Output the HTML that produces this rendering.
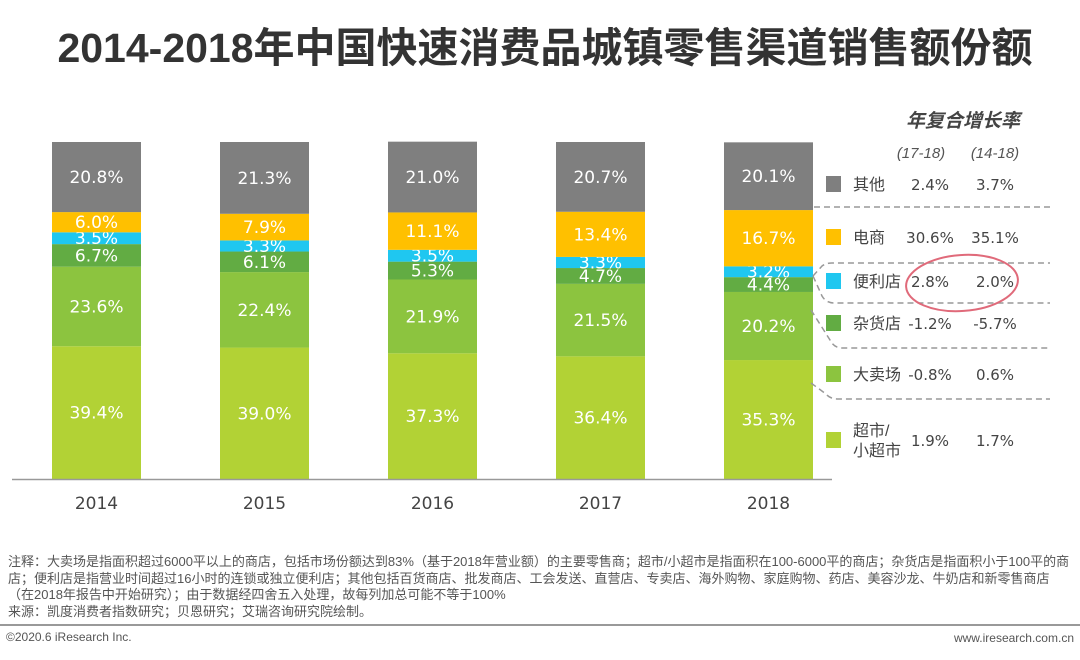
<!DOCTYPE html>
<html><head><meta charset="utf-8">
<style>
body{margin:0;width:1080px;height:660px;background:#fff;font-family:"Liberation Sans","Noto Sans CJK SC",sans-serif;overflow:hidden;position:relative}
.t{position:absolute;white-space:nowrap}
</style></head>
<body>
<div class="t" style="left:0;width:1090px;text-align:center;top:14px;font-size:41px;font-weight:bold;color:#333;font-family:'Liberation Sans','Noto Sans CJK SC',sans-serif">2014-2018年中国快速消费品城镇零售渠道销售额份额</div>
<svg id="chart" width="1080" height="660" style="position:absolute;left:0;top:0"></svg>
<div class="t" style="left:8px;top:554px;font-size:13px;line-height:16.5px;color:#555;white-space:normal;width:1062px">注释：大卖场是指面积超过6000平以上的商店，包括市场份额达到83%（基于2018年营业额）的主要零售商；超市/小超市是指面积在100-6000平的商店；杂货店是指面积小于100平的商店；便利店是指营业时间超过16小时的连锁或独立便利店；其他包括百货商店、批发商店、工会发送、直营店、专卖店、海外购物、家庭购物、药店、美容沙龙、牛奶店和新零售商店（在2018年报告中开始研究）；由于数据经四舍五入处理，故每列加总可能不等于100%<br>来源：凯度消费者指数研究；贝恩研究；艾瑞咨询研究院绘制。</div>
<div style="position:absolute;left:0;top:624px;width:1080px;height:2px;background:#999"></div>
<div class="t" style="left:6px;top:630px;font-size:12px;color:#555">©2020.6 iResearch Inc.</div>
<div class="t" style="right:6px;top:631px;font-size:12px;color:#555">www.iresearch.com.cn</div>
<script>
const years=["2014","2015","2016","2017","2018"];
const superV=[39.4,39.0,37.3,36.4,35.3];
const hyperV=[23.6,22.4,21.9,21.5,20.2];
const groceryV=[6.7,6.1,5.3,4.7,4.4];
const convV=[3.5,3.3,3.5,3.3,3.2];
const ecomV=[6.0,7.9,11.1,13.4,16.7];
const otherV=[20.8,21.3,21.0,20.7,20.1];
const cagr1=["1.9%","-0.8%","-1.2%","2.8%","30.6%","2.4%"];
const cagr2=["1.7%","0.6%","-5.7%","2.0%","35.1%","3.7%"];
const seriesNames=["超市/小超市","大卖场","杂货店","便利店","电商","其他"];
const series=[superV,hyperV,groceryV,convV,ecomV,otherV];
const colors=["#b2d235","#8cc43f","#62ac43","#1fc7f0","#ffc000","#7f7f7f"];
const svg=document.getElementById('chart');
const NS="http://www.w3.org/2000/svg";
const base=479,pxPer=3.37,x0=52,step=168,bw=89;
const xPos=i=>x0+i*step;
const yPos=v=>base-v*pxPer;
function mk(tag,attrs){const e=document.createElementNS(NS,tag);for(const k in attrs)e.setAttribute(k,attrs[k]);svg.appendChild(e);return e;}
years.forEach((yr,i)=>{
  let cum=0;
  series.forEach((s,j)=>{
    const v=s[i];const y1=yPos(cum),y2=yPos(cum+v);
    const r=mk('rect',{x:xPos(i),y:y2,width:bw,height:y1-y2,fill:colors[j]});
    
    
    const t=mk('text',{x:xPos(i)+bw/2,y:(y1+y2)/2+6,'text-anchor':'middle','font-size':'17',fill:'#fff','font-family':'DejaVu Sans, sans-serif'});
    t.textContent=v.toFixed(1)+'%';
    
    
    cum+=v;
  });
  const yl=mk('text',{x:xPos(i)+bw/2,y:509,'text-anchor':'middle','font-size':'17',fill:'#444','font-family':'DejaVu Sans, sans-serif'});
  yl.textContent=yr;
  
  
});
const ax=mk('line',{x1:12,y1:479.5,x2:832,y2:479.5,stroke:'#999','stroke-width':1.5});


const legY=[440,374,323,281,237,184];
seriesNames.forEach((n,j)=>{
  const sq=mk('rect',{x:826,y:legY[j]-8,width:15,height:16,fill:colors[j]});
  
  
  if(j===0){
    const a=mk('text',{x:853,y:legY[j]-4,'font-size':'16',fill:'#444'});a.textContent='超市/';
    
    const b=mk('text',{x:853,y:legY[j]+16,'font-size':'16',fill:'#444'});b.textContent='小超市';
    
  } else {
    const a=mk('text',{x:853,y:legY[j]+6,'font-size':'16',fill:'#444'});a.textContent=n;
    
  }
  const c1=mk('text',{x:930,y:legY[j]+6,'text-anchor':'middle','font-size':'15',fill:'#444','font-family':'DejaVu Sans, sans-serif'});c1.textContent=cagr1[j];
  
  const c2=mk('text',{x:995,y:legY[j]+6,'text-anchor':'middle','font-size':'15',fill:'#444','font-family':'DejaVu Sans, sans-serif'});c2.textContent=cagr2[j];
  
});
const h=mk('text',{x:963,y:127,'text-anchor':'middle','font-size':'19','font-weight':'bold','font-style':'italic',fill:'#444'});h.textContent='年复合增长率';

const s1=mk('text',{x:921,y:158,'text-anchor':'middle','font-size':'15','font-style':'italic',fill:'#555'});s1.textContent='(17-18)';

const s2=mk('text',{x:995,y:158,'text-anchor':'middle','font-size':'15','font-style':'italic',fill:'#555'});s2.textContent='(14-18)';

const dash=["M814 207 L1050 207","M813 276 L822 266 Q826 263 832 263 L1050 263","M813 276 L822 296 Q826 303 834 303 L1050 303","M811 310 L830 340 Q834 348 842 348 L1050 348","M811 383 L826 394 Q830 399 838 399 L1050 399"];
dash.forEach(d=>{const p=mk('path',{d:d,fill:'none',stroke:'#999','stroke-width':1.5,'stroke-dasharray':'6 4'});
});
const el=mk('ellipse',{cx:962,cy:283,rx:56,ry:28,fill:'none',stroke:'#e06a7a','stroke-width':2,transform:'rotate(-4 962 283)'});

</script>
</body></html>
